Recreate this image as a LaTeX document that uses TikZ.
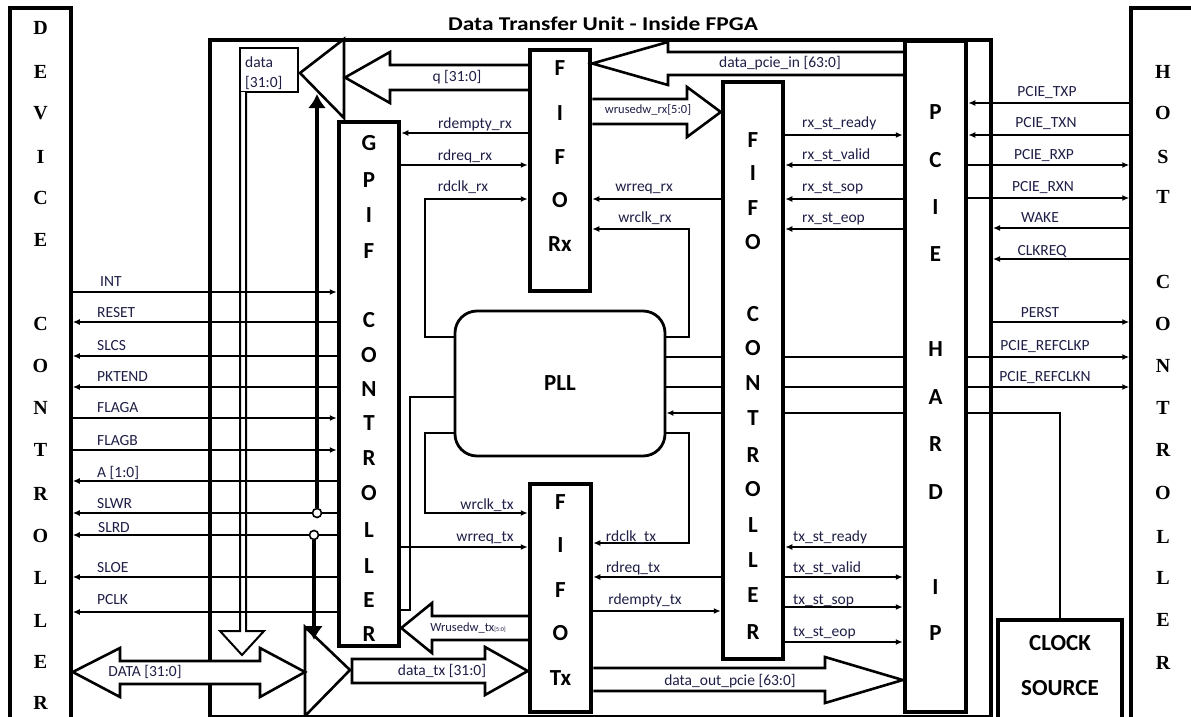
\documentclass[tikz,border=0pt]{standalone}
\usepackage{fontspec}
\setmainfont{Carlito}
\newfontfamily\serifb{Liberation Serif}
\usepackage{graphicx}
\usetikzlibrary{arrows.meta}
\definecolor{lblc}{RGB}{30,30,70}
\begin{document}
\begin{tikzpicture}[x=1pt,y=-1pt,
 box/.style={draw,rectangle,inner sep=0pt,line width=4.5pt,fill=white},
 sig/.style={line width=1.6pt,-{Latex[length=7pt,width=6pt]}},
 wire/.style={line width=1.6pt},
 hol/.style={draw,line width=2.6pt,fill=white,line join=miter},
 lbl/.style={font=\fontsize{15.5}{16}\selectfont,text=lblc,inner sep=0pt,text height=11pt,text depth=2pt},
 sml/.style={font=\fontsize{12.5}{13}\selectfont,text=lblc,inner sep=0pt},
 big/.style={font=\fontsize{23}{24}\selectfont\bfseries,inner sep=0pt},
 ser/.style={font=\fontsize{20}{21}\selectfont\serifb\bfseries,inner sep=0pt},
]
\fill[white] (0,0) rectangle (1191,717);
\useasboundingbox (0,0) rectangle (1191,717);

% outer boxes
\node[box,line width=3.5pt,minimum width=61pt,minimum height=717pt] (dev) at (40.5,366.5) {};
\node[box,line width=3.5pt,minimum width=64pt,minimum height=717pt] (host) at (1163,366.5) {};
\node[draw,rectangle,inner sep=0pt,line width=4pt,minimum width=781pt,minimum height=677pt] (fpga) at (600.5,378.5) {};
\node[font=\fontsize{19.5}{20}\selectfont\bfseries,inner sep=0pt] (title) at (603,24) {\scalebox{1.2}[1]{Data Transfer Unit - Inside FPGA}};

% inner boxes
\node[box,minimum width=60pt,minimum height=524pt] (gpif) at (369,384) {};
\node[box,minimum width=60pt,minimum height=241pt] (fiforx) at (560,170.5) {};
\node[box,minimum width=61pt,minimum height=228pt] (fifotx) at (560.5,598) {};
\node[box,minimum width=60pt,minimum height=577pt] (fifoctl) at (753,370.5) {};
\node[box,minimum width=61pt,minimum height=671pt] (pcie) at (935.5,376.5) {};
\node[box,line width=2.8pt,rounded corners=22pt,minimum width=210pt,minimum height=145pt,font=\fontsize{23}{24}\selectfont\bfseries] (pll) at (560,383.5) {PLL};
\node[box,line width=4pt,minimum width=124pt,minimum height=110pt] (clk) at (1060,675) {};
\node[box,line width=2.5pt,minimum width=58pt,minimum height=44pt] (dbox) at (269,70) {};

% multiplexer triangles
\coordinate (mA) at (300,73);
\coordinate (mB) at (344,39);
\coordinate (mC) at (344,118);
\draw[line width=2.6pt,fill=white,line join=miter] (mA) -- (mB) -- (mC) -- cycle;
\coordinate (nA) at (305,627);
\coordinate (nB) at (350,670);
\coordinate (nC) at (305,716);
\draw[line width=2.6pt,fill=white,line join=miter] (nA) -- (nB) -- (nC) -- cycle;

% hollow bus arrows
\draw[hol] (fiforx.west |- 0,65) -- (390,65) -- (390,52) -- (345,77.5) -- (390,103) -- (390,90) -- (fiforx.west |- 0,90);
\draw[hol] (pcie.west |- 0,52) -- (668,52) -- (668,42) -- (fiforx.east |- 0,63.5) -- (668,85) -- (668,75) -- (pcie.west |- 0,75);
\draw[hol] (fiforx.east |- 0,99) -- (687,99) -- (687,87) -- (fifoctl.west |- 0,112) -- (687,137) -- (687,124) -- (fiforx.east |- 0,124);
\draw[hol] (fifotx.west |- 0,616) -- (432,616) -- (432,603) -- (gpif.east |- 0,628) -- (432,653) -- (432,640) -- (fifotx.west |- 0,640);
\draw[hol] (352,659) -- (485,659) -- (485,647) -- (fifotx.west |- 0,671) -- (485,695) -- (485,683) -- (352,683) -- cycle;
\draw[hol] (fifotx.east |- 0,668) -- (825,668) -- (825,657) -- (pcie.west |- 0,680) -- (825,703) -- (825,691) -- (fifotx.east |- 0,691);
\draw[hol] (dev.east |- 0,672) -- (120,648) -- (120,661) -- (260,661) -- (260,648) -- (nA |- 0,672) -- (260,697) -- (260,684) -- (120,684) -- (120,697) -- cycle;
\draw[line width=2pt,fill=white,line join=miter] (240,92) -- (240,631) -- (220,631) -- (242,655) -- (264,631) -- (246,631) -- (246,92);

% left signals (device controller <-> GPIF)
\draw[sig] (dev.east |- 0,292) -- (gpif.west |- 0,292);
\draw[sig] (gpif.west |- 0,322) -- (dev.east |- 0,322);
\draw[sig] (gpif.west |- 0,356) -- (dev.east |- 0,356);
\draw[sig] (gpif.west |- 0,387) -- (dev.east |- 0,387);
\draw[sig] (dev.east |- 0,418) -- (gpif.west |- 0,418);
\draw[sig] (dev.east |- 0,450) -- (gpif.west |- 0,450);
\draw[sig] (gpif.west |- 0,481) -- (dev.east |- 0,481);
\draw[sig] (gpif.west |- 0,513) -- (dev.east |- 0,513);
\draw[sig] (gpif.west |- 0,535) -- (dev.east |- 0,535);
\draw[sig] (gpif.west |- 0,577) -- (dev.east |- 0,577);
\draw[sig] (gpif.west |- 0,612) -- (dev.east |- 0,612);

% GPIF <-> FIFOs
\draw[sig] (fiforx.west |- 0,133) -- (gpif.east |- 0,133);
\draw[sig] (gpif.east |- 0,165) -- (fiforx.west |- 0,165);
\draw[sig] (gpif.east |- 0,547) -- (fifotx.west |- 0,547);

% PLL clocks
\draw[sig,line width=1.4pt] (pll.west |- 0,337) -| (425,199) -- (fiforx.west |- 0,199);
\draw[sig,line width=1.4pt] (pll.east |- 0,337) -| (689,229) -- (fiforx.east |- 0,229);
\draw[sig,line width=1.4pt] (pll.west |- 0,433) -| (425,513) -- (fifotx.west |- 0,513);
\draw[sig,line width=1.4pt] (pll.east |- 0,433) -| (689,543) -- (fifotx.east |- 0,543);
\draw[line width=2.4pt] (pll.west |- 0,397) -| (410,610) -- (gpif.east |- 0,610);

% FIFO controller <-> FIFOs
\draw[sig] (fifoctl.west |- 0,199) -- (fiforx.east |- 0,199);
\draw[sig] (fifoctl.west |- 0,577) -- (fifotx.east |- 0,577);
\draw[sig] (fifotx.east |- 0,611) -- (fifoctl.west |- 0,611);

% FIFO controller <-> PCIe
\draw[sig] (fifoctl.east |- 0,135) -- (pcie.west |- 0,135);
\draw[sig] (pcie.west |- 0,165) -- (fifoctl.east |- 0,165);
\draw[sig] (pcie.west |- 0,199) -- (fifoctl.east |- 0,199);
\draw[sig] (pcie.west |- 0,229) -- (fifoctl.east |- 0,229);
\draw[sig] (pcie.west |- 0,547) -- (fifoctl.east |- 0,547);
\draw[sig] (fifoctl.east |- 0,577) -- (pcie.west |- 0,577);
\draw[sig] (fifoctl.east |- 0,607) -- (pcie.west |- 0,607);
\draw[sig] (fifoctl.east |- 0,642) -- (pcie.west |- 0,642);

% reference clocks
\draw[wire] (pll.east |- 0,357) -- (fifoctl.west |- 0,357);
\draw[wire] (pll.east |- 0,387) -- (fifoctl.west |- 0,387);
\draw[wire] (fifoctl.east |- 0,357) -- (pcie.west |- 0,357);
\draw[wire] (fifoctl.east |- 0,387) -- (pcie.west |- 0,387);
\draw[sig] (fifoctl.west |- 0,413) -- (pll.east |- 0,413);
\draw[wire] (pcie.west |- 0,413) -- (fifoctl.east |- 0,413);
\draw[wire] (clk.north) |- (pcie.east |- 0,413);

% PCIe <-> host
\draw[sig] (host.west |- 0,103) -- (pcie.east |- 0,103);
\draw[sig] (host.west |- 0,135) -- (pcie.east |- 0,135);
\draw[sig] (pcie.east |- 0,165) -- (host.west |- 0,165);
\draw[sig] (pcie.east |- 0,198) -- (host.west |- 0,198);
\draw[sig] (host.west |- 0,228) -- (fpga.east |- 0,228);
\draw[sig] (host.west |- 0,259) -- (fpga.east |- 0,259);
\draw[sig] (fpga.east |- 0,322) -- (host.west |- 0,322);
\draw[sig] (pcie.east |- 0,357) -- (host.west |- 0,357);
\draw[sig] (pcie.east |- 0,387) -- (host.west |- 0,387);

% SLWR / SLRD select junctions
\node[circle,draw,line width=1.6pt,fill=white,minimum size=9pt,inner sep=0pt] (cwr) at (317,513) {};
\node[circle,draw,line width=1.6pt,fill=white,minimum size=9pt,inner sep=0pt] (crd) at (314,535) {};
\coordinate (upTip) at (317,94);
\coordinate (dnTip) at (314,640);
\draw[line width=4pt,-{Latex[length=14pt,width=18pt]}] (cwr.north) -- (upTip);
\draw[line width=4pt,-{Latex[length=14pt,width=18pt]}] (crd.south) -- (dnTip);

% box letters
\foreach \l/\yy [count=\i] in {D/28,E/72,V/113,I/157,C/198,E/240,C/324,O/366,N/408,T/450,R/494,O/536,L/578,L/621,E/662,R/703}
  \node[ser] (dv\i) at (40.5,\yy) {\l};
\foreach \l/\yy [count=\i] in {H/72,O/113,S/157,T/197,C/282,O/324,N/366,T/408,R/450,O/493,L/537,L/578,E/620,R/663}
  \node[ser] (hs\i) at (1163,\yy) {\l};
\foreach \l/\yy [count=\i] in {G/143,P/180,I/215,F/251,C/320,O/355,N/389,T/423,R/458,O/493,L/530,L/566,E/600,R/634}
  \node[big] (gp\i) at (369,\yy) {\l};
\foreach \l/\yy [count=\i] in {F/68,I/113,F/157,O/200,Rx/244}
  \node[big] (fr\i) at (560,\yy) {\l};
\foreach \l/\yy [count=\i] in {F/140,I/173,F/208,O/242,C/314,O/348,N/383,T/418,R/455,O/489,L/525,L/560,E/595,R/632}
  \node[big] (fc\i) at (753,\yy) {\l};
\foreach \l/\yy [count=\i] in {F/502,I/545,F/590,O/633,Tx/678}
  \node[big] (ft\i) at (560.5,\yy) {\l};
\foreach \l/\yy [count=\i] in {P/112,C/160,I/207,E/254,H/349,A/397,R/444,D/492,I/587,P/633}
  \node[big] (pc\i) at (935.5,\yy) {\l};
\node[big] (clk1) at (1060,643) {CLOCK};
\node[big] (clk2) at (1060,688) {SOURCE};

% labels
\node[lbl,anchor=west] (lINT) at (100,282) {INT};
\node[lbl,anchor=west] (lRST) at (97,313) {RESET};
\node[lbl,anchor=west] (lSLCS) at (97,346) {SLCS};
\node[lbl,anchor=west] (lPKT) at (97,377) {PKTEND};
\node[lbl,anchor=west] (lFA) at (97,408) {FLAGA};
\node[lbl,anchor=west] (lFB) at (97,441) {FLAGB};
\node[lbl,anchor=west] (lA) at (97,473) {A [1:0]};
\node[lbl,anchor=west] (lWR) at (97,504) {SLWR};
\node[lbl,anchor=west] (lRD) at (98,528) {SLRD};
\node[lbl,anchor=west] (lOE) at (97,568) {SLOE};
\node[lbl,anchor=west] (lPC) at (97,600) {PCLK};
\node[lbl] (lDATA) at (145,672) {DATA [31:0]};
\node[lbl,anchor=west] (ld1) at (245,63) {data};
\node[lbl,anchor=west] (ld2) at (245,83) {[31:0]};
\node[lbl] (lq) at (457,77) {q [31:0]};
\node[lbl] (lpin) at (780,63) {data\_pcie\_in [63:0]};
\node[sml] (lwrx) at (648,110) {wrusedw\_rx[5:0]};
\node[lbl] (l1) at (475,124) {rdempty\_rx};
\node[lbl] (l2) at (465,156) {rdreq\_rx};
\node[lbl] (l3) at (463,187) {rdclk\_rx};
\node[lbl] (l4) at (644,187) {wrreq\_rx};
\node[lbl] (l5) at (645,218) {wrclk\_rx};
\node[lbl,anchor=west] (l6) at (802,123) {rx\_st\_ready};
\node[lbl,anchor=west] (l7) at (802,155) {rx\_st\_valid};
\node[lbl,anchor=west] (l8) at (802,187) {rx\_st\_sop};
\node[lbl,anchor=west] (l9) at (802,218) {rx\_st\_eop};
\node[lbl] (l10) at (487,505) {wrclk\_tx};
\node[lbl] (l11) at (485,537) {wrreq\_tx};
\node[lbl] (l12) at (631,537) {rdclk\_tx};
\node[lbl] (l13) at (633,568) {rdreq\_tx};
\node[lbl] (l14) at (645,600) {rdempty\_tx};
\node[sml] (l15) at (468,628) {Wrusedw\_tx{\fontsize{6}{6}\selectfont[5:0]}};
\node[lbl] (l16) at (442,671) {data\_tx [31:0]};
\node[lbl] (l17) at (730,681) {data\_out\_pcie [63:0]};
\node[lbl,anchor=west] (l18) at (793,537) {tx\_st\_ready};
\node[lbl,anchor=west] (l19) at (793,568) {tx\_st\_valid};
\node[lbl,anchor=west] (l20) at (793,600) {tx\_st\_sop};
\node[lbl,anchor=west] (l21) at (793,632) {tx\_st\_eop};
\node[lbl] (r1) at (1047,92) {PCIE\_TXP};
\node[lbl] (r2) at (1046,123) {PCIE\_TXN};
\node[lbl] (r3) at (1044,155) {PCIE\_RXP};
\node[lbl] (r4) at (1043,187) {PCIE\_RXN};
\node[lbl] (r5) at (1040,218) {WAKE};
\node[lbl] (r6) at (1042,251) {CLKREQ};
\node[lbl] (r7) at (1040,313) {PERST};
\node[lbl] (r8) at (1045,346) {PCIE\_REFCLKP};
\node[lbl] (r9) at (1045,377) {PCIE\_REFCLKN};
\end{tikzpicture}
\end{document}
